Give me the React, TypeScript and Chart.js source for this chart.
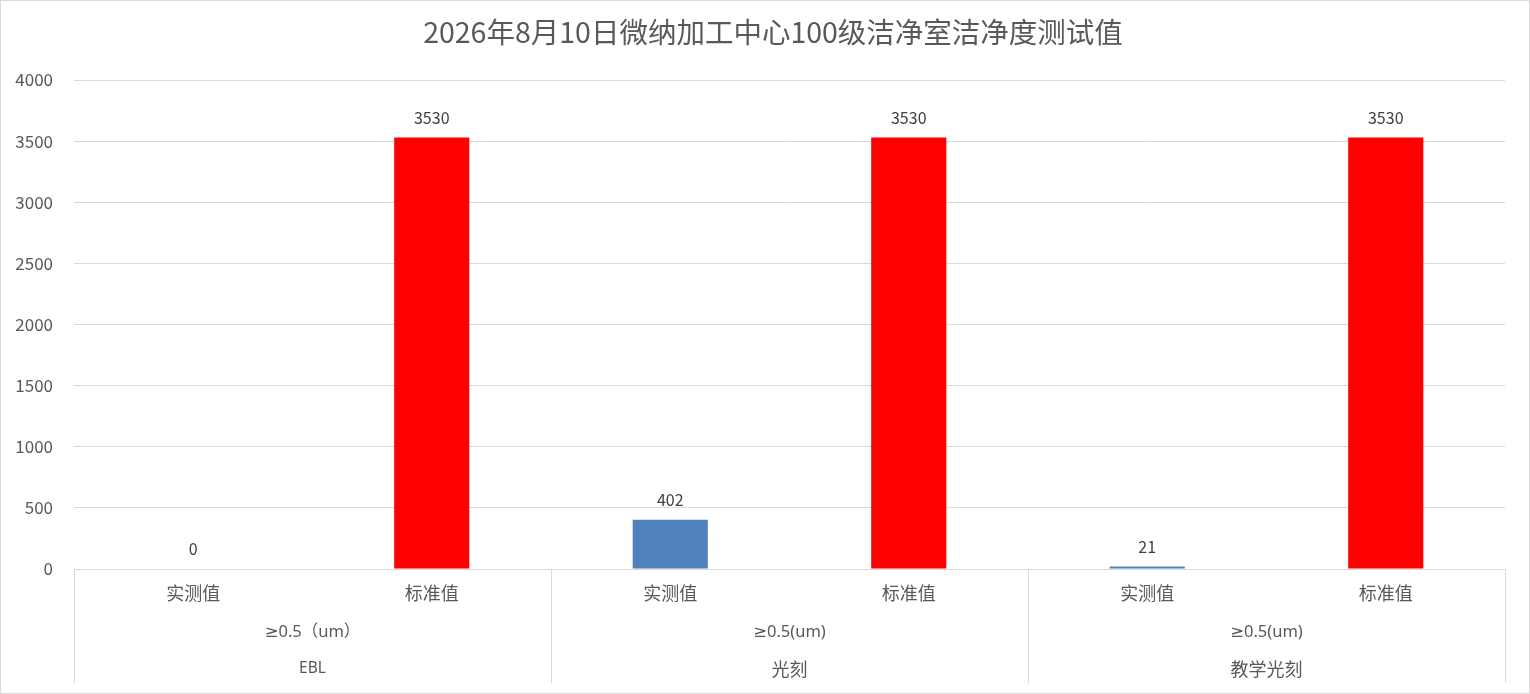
import React, { useEffect, useRef } from "react";
import { Chart, registerables } from "chart.js";

Chart.register(...registerables);

const TITLE = "2026年8月10日微纳加工中心100级洁净室洁净度测试值";
const categories = ["实测值", "标准值", "实测值", "标准值", "实测值", "标准值"];
const values = [0, 3530, 402, 3530, 21, 3530];
const barColors = ["#4F81BD", "#FF0000", "#4F81BD", "#FF0000", "#4F81BD", "#FF0000"];
const level2Labels = ["≥0.5（um）", "≥0.5(um)", "≥0.5(um)"];
const level3Labels = ["EBL", "光刻", "教学光刻"];
const yTicks = { min: 0, max: 4000, step: 500 };

const FONT = "'Noto Sans CJK SC', 'Noto Sans', sans-serif";
const LATIN_FONT = "'Noto Sans', 'DejaVu Sans', 'Noto Sans CJK SC', sans-serif";
const GRID = "#D9D9D9";
const TEXT = "#595959";

const hasCJK = (s: string) => /[\u4e00-\u9fff]/.test(s);

const extrasPlugin = {
  id: "extras",
  beforeDraw(chart: any) {
    const { ctx, width, height } = chart;
    ctx.save();
    ctx.fillStyle = "#FFFFFF";
    ctx.fillRect(0, 0, width, height);
    ctx.restore();
  },
  afterDraw(chart: any) {
    const { ctx, width, height, chartArea } = chart;
    const xs = chart.scales.x;
    const p = (i: number) => xs.getPixelForValue(i);
    const step = p(1) - p(0);
    const bottomY = 683;
    ctx.save();
    // title
    ctx.fillStyle = TEXT;
    ctx.textAlign = "center";
    ctx.textBaseline = "middle";
    ctx.font = `28.5px ${FONT}`;
    ctx.fillText(TITLE, 773, 32);

    ctx.strokeStyle = GRID;
    ctx.lineWidth = 1;
    // group separators
    for (let g = 0; g <= level2Labels.length; g++) {
      const idx = g * 2;
      const x = Math.round(p(0) - step / 2 + idx * step) + 0.5;
      ctx.beginPath();
      ctx.moveTo(x, chartArea.bottom);
      ctx.lineTo(x, bottomY);
      ctx.stroke();
    }
    // group labels
    ctx.fillStyle = TEXT;
    for (let g = 0; g < level2Labels.length; g++) {
      const cx = (p(2 * g) + p(2 * g + 1)) / 2;
      ctx.font = `16.5px ${LATIN_FONT}`;
      ctx.fillText(level2Labels[g], cx, 632);
      const l3 = level3Labels[g];
      ctx.font = hasCJK(l3) ? `18px ${FONT}` : `15.5px ${LATIN_FONT}`;
      ctx.fillText(l3, cx, 669);
    }
    // data labels
    const meta = chart.getDatasetMeta(0);
    ctx.fillStyle = "#404040";
    ctx.font = `16px ${FONT}`;
    meta.data.forEach((bar: any, i: number) => {
      const { x, y } = bar.getProps(["x", "y"], true);
      ctx.fillText(String(values[i]), x, y - 20);
    });
    // outer border
    ctx.strokeStyle = GRID;
    ctx.strokeRect(0.5, 0.5, width - 1, height - 1);
    ctx.restore();
  },
};

export default function App() {
  const ref = useRef<HTMLCanvasElement | null>(null);
  useEffect(() => {
    document.body.style.margin = "0";
    if (!ref.current) return;
    const chart = new Chart(ref.current, {
      type: "bar",
      data: {
        labels: categories,
        datasets: [
          {
            data: values,
            backgroundColor: barColors,
            borderWidth: 0,
            categoryPercentage: 1,
            barPercentage: 0.315,
          },
        ],
      },
      options: {
        responsive: false,
        animation: false,
        layout: { padding: { left: 0, right: 25, top: 80, bottom: 0 } },
        plugins: {
          legend: { display: false },
          tooltip: { enabled: false },
          title: { display: false },
        },
        scales: {
          x: {
            type: "category",
            grid: { display: false, drawTicks: false },
            border: { display: true, color: GRID },
            ticks: {
              color: TEXT,
              font: { family: FONT, size: 18 },
              padding: 13,
              maxRotation: 0,
              autoSkip: false,
            },
            afterFit(scale: any) {
              scale.height = 125;
            },
          },
          y: {
            min: yTicks.min,
            max: yTicks.max,
            grid: { color: GRID, drawTicks: false },
            border: { display: false },
            ticks: {
              stepSize: yTicks.step,
              color: TEXT,
              font: { family: FONT, size: 17 },
              padding: 21,
              callback: (v: any) => String(v),
            },
            afterFit(scale: any) {
              scale.width = 74;
            },
          },
        },
      },
      plugins: [extrasPlugin],
    });
    return () => chart.destroy();
  }, []);
  return (
    <div style={{ position: "absolute", left: 0, top: 0, width: 1530, height: 694 }}>
      <canvas ref={ref} width={1530} height={694} />
    </div>
  );
}
